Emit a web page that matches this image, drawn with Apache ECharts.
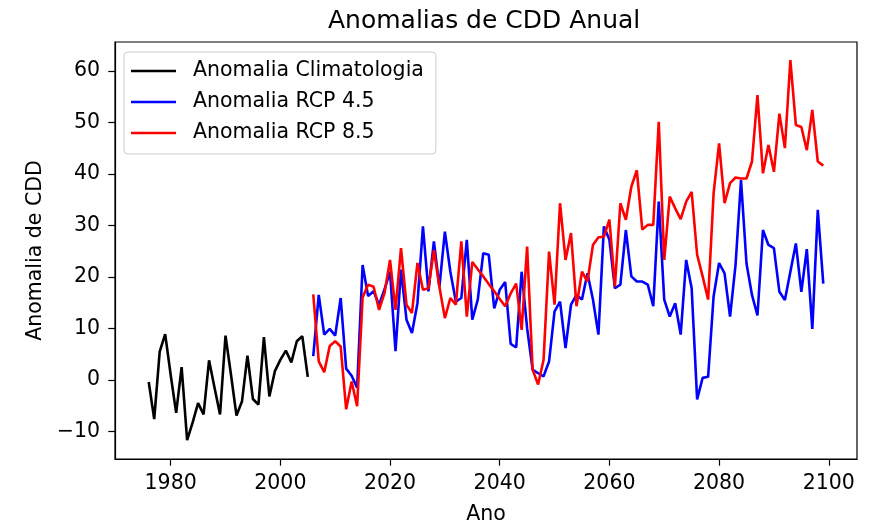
<!DOCTYPE html>
<html>
<head>
<meta charset="utf-8">
<script src="https://cdn.jsdelivr.net/npm/echarts@6/dist/echarts.min.js"></script>
<style>
html,body{margin:0;padding:0;background:#fff;}
#chart{width:881px;height:526px;}
</style>
</head>
<body>
<div id="chart"></div>
<script>
// ---- data ----
const climStart = 1976;
const rcpStart = 2006;
const climValues = [-0.4, -7.6, 5.5, 8.9, 1.0, -6.4, 2.5, -11.7, -8.3, -4.5,
  -6.7, 3.8, -1.5, -6.7, 8.6, 1.0, -6.9, -4.2, 4.7, -3.7,
  -4.8, 8.3, -3.2, 1.7, 3.9, 5.7, 3.4, 7.5, 8.5, 0.6];
const rcp45Values = [4.6, 16.5, 8.8, 9.9, 8.6, 15.9, 2.2, 0.8, -1.5, 22.3,
  16.3, 17.2, 14.6, 17.6, 21.0, 5.6, 21.4, 11.7, 9.1, 14.9,
  29.8, 17.2, 26.9, 18.0, 28.8, 21.0, 15.2, 15.9, 27.2, 11.7,
  15.6, 24.6, 24.3, 13.9, 17.5, 19.0, 7.0, 6.3, 21.0, 10.0,
  2.0, 1.3, 0.7, 3.6, 13.3, 15.2, 6.2, 14.6, 16.5, 15.6,
  20.7, 15.6, 8.8, 29.8, 27.2, 17.8, 18.5, 29.1, 20.1, 19.1,
  19.1, 18.5, 14.3, 34.6, 15.6, 12.3, 14.9, 8.8, 23.3, 17.8,
  -3.8, 0.4, 0.6, 16.2, 22.7, 20.7, 12.3, 22.3, 38.8, 22.6,
  16.5, 12.5, 29.1, 26.2, 25.6, 17.1, 15.5, 21.0, 26.5, 17.1,
  25.4, 9.9, 33.0, 18.7];
const rcp85Values = [16.6, 3.6, 1.5, 6.6, 7.5, 6.5, -5.7, -0.3, -5.1, 16.0,
  18.5, 18.1, 13.6, 16.9, 23.3, 13.6, 25.6, 14.6, 13.0, 22.7,
  17.5, 17.8, 25.2, 18.1, 12.0, 15.9, 14.6, 26.9, 12.3, 22.9,
  21.5, 20.1, 18.6, 17.2, 15.7, 14.3, 16.8, 18.7, 9.7, 25.9,
  2.0, -0.9, 3.9, 24.9, 14.6, 34.3, 23.3, 28.5, 14.3, 21.0,
  19.1, 26.2, 27.7, 27.8, 31.1, 18.1, 34.3, 31.1, 37.5, 40.7,
  29.2, 30.1, 30.1, 50.1, 23.3, 35.6, 33.3, 31.2, 34.6, 36.5,
  24.3, 20.1, 15.6, 36.2, 45.9, 34.3, 38.2, 39.3, 39.1, 39.1,
  42.4, 55.3, 40.1, 45.6, 40.4, 51.7, 45.0, 62.1, 49.5, 49.1,
  44.6, 52.4, 42.4, 41.6];
const seriesNames = ['Anomalia Climatologia', 'Anomalia RCP 4.5', 'Anomalia RCP 8.5'];
const xTicks = [1980, 2000, 2020, 2040, 2060, 2080, 2100];
const yTicks = [-10, 0, 10, 20, 30, 40, 50, 60];
const titleText = 'Anomalias de CDD Anual';
const xName = 'Ano';
const yName = 'Anomalia de CDD';

// ---- build ----
function pairs(start, vals) { return vals.map((v, i) => [start + i, v]); }
const FONT = 'DejaVu Sans';
const chart = echarts.init(document.getElementById('chart'));
const yLabelFmt = v => (v < 0 ? '\u2212' + (-v) : String(v));
const xLabelFmt = v => String(v);
chart.setOption({
  animation: false,
  backgroundColor: '#ffffff',
  textStyle: { fontFamily: FONT },
  title: {
    text: titleText,
    left: 328, top: 9, padding: 0,
    textStyle: { fontFamily: FONT, fontSize: 25, fontWeight: 'normal', color: '#000' }
  },
  legend: {
    orient: 'vertical',
    left: 124, top: 52,
    padding: [7, 12, 9, 7],
    itemGap: 7,
    itemWidth: 45, itemHeight: 2.5,
    icon: 'rect',
    backgroundColor: 'rgba(255,255,255,0.8)',
    borderColor: '#cccccc', borderWidth: 1, borderRadius: 4,
    textStyle: { fontFamily: FONT, fontSize: 20.5, color: '#000', lineHeight: 24, padding: [0, 0, 0, 12] },
    data: seriesNames
  },
  grid: {
    left: 115, right: 24, top: 42, bottom: 67,
    containLabel: false, outerBoundsMode: 'none',
    show: true, borderColor: '#000', borderWidth: 1.2, backgroundColor: 'transparent'
  },
  xAxis: {
    type: 'value', min: 1969.85, max: 2105.15,
    name: xName, nameLocation: 'middle', nameGap: 45.5,
    nameTextStyle: { fontFamily: FONT, fontSize: 20.5, color: '#000' },
    axisLine: { show: true, onZero: false, lineStyle: { color: '#000', width: 1.2 } },
    axisTick: { show: true, customValues: xTicks, length: 6.7, lineStyle: { color: '#000', width: 1.2 } },
    axisLabel: { customValues: xTicks, fontFamily: FONT, fontSize: 20.5, color: '#000', margin: 14, formatter: xLabelFmt },
    splitLine: { show: false }
  },
  yAxis: {
    type: 'value', min: -15.35, max: 65.6,
    name: yName, nameLocation: 'middle', nameGap: 69, nameRotate: 90,
    nameTextStyle: { fontFamily: FONT, fontSize: 20.5, color: '#000' },
    axisLine: { show: true, onZero: false, lineStyle: { color: '#000', width: 1.2 } },
    axisTick: { show: true, customValues: yTicks, length: 6.7, lineStyle: { color: '#000', width: 1.2 } },
    axisLabel: { customValues: yTicks, fontFamily: FONT, fontSize: 20.5, color: '#000', margin: 15, formatter: yLabelFmt },
    splitLine: { show: false }
  },
  series: [
    { name: seriesNames[0], type: 'line', data: pairs(climStart, climValues), symbol: 'none',
      color: '#000000', lineStyle: { color: '#000000', width: 2.6 } },
    { name: seriesNames[1], type: 'line', data: pairs(rcpStart, rcp45Values), symbol: 'none',
      color: '#0000ff', lineStyle: { color: '#0000ff', width: 2.6 } },
    { name: seriesNames[2], type: 'line', data: pairs(rcpStart, rcp85Values), symbol: 'none',
      color: '#ff0000', lineStyle: { color: '#ff0000', width: 2.6 } }
  ]
});
</script>
</body>
</html>
